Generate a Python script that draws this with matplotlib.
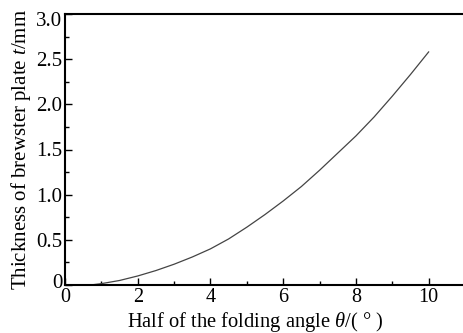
import matplotlib
matplotlib.use("Agg")
import matplotlib.pyplot as plt
import matplotlib.transforms as mtransforms
from matplotlib.ticker import MultipleLocator, FuncFormatter

theta = [0.7, 1.0, 1.5, 2.0, 2.5, 3.0, 3.5, 4.0, 4.5, 5.0, 5.5, 6.0, 6.5, 7.0, 7.5, 8.0, 8.5, 9.0, 9.5, 10.0]
thickness = [0.0, 0.015, 0.05, 0.10, 0.16, 0.23, 0.31, 0.40, 0.51, 0.64, 0.78, 0.93, 1.09, 1.27, 1.46, 1.65, 1.86, 2.09, 2.33, 2.58]

plt.rcParams['font.family'] = ['Liberation Serif', 'DejaVu Serif']
plt.rcParams['mathtext.fontset'] = 'custom'
plt.rcParams['mathtext.rm'] = 'Liberation Serif'
plt.rcParams['mathtext.it'] = 'Liberation Serif:italic'

fig = plt.figure(figsize=(4.63, 3.33), dpi=100)
ax = fig.add_axes([65/463, 48/333, 400/463, 271/333])
ax.plot(theta, thickness, color='#444444', lw=0.9)
ax.set_xlim(0, 11)
ax.set_ylim(0, 3.0)
ax.xaxis.set_major_locator(MultipleLocator(2))
ax.xaxis.set_minor_locator(MultipleLocator(1))
ax.yaxis.set_major_locator(MultipleLocator(0.5))
ax.yaxis.set_minor_locator(MultipleLocator(0.25))
ax.yaxis.set_major_formatter(FuncFormatter(lambda v, p: '0' if abs(v) < 1e-9 else f'{v:.1f}'))
ax.tick_params(which='both', direction='in', labelsize=15, width=1, top=False, right=False)
ax.tick_params(axis='x', labelsize=14.5, pad=2)
ax.tick_params(which='major', length=5)
ax.tick_params(which='minor', length=3)
ax.tick_params(axis='y', pad=2)
for s in ['left', 'bottom', 'top']:
    ax.spines[s].set_linewidth(1.5)
ax.spines['right'].set_visible(False)
ax.set_xlabel(r'Half of the folding angle $\it{\theta}$/( ° )', fontsize=14.8, labelpad=0)
ax.xaxis.set_label_coords(0.475, -0.092)
ax.set_ylabel(r'Thickness of brewster plate $\it{t}$/mm', fontsize=15, labelpad=2)
fig.canvas.draw()
for lab in ax.get_yticklabels():
    if lab.get_text() == '0':
        lab.set_transform(lab.get_transform() + mtransforms.ScaledTranslation(0, 4/100, fig.dpi_scale_trans))
    elif lab.get_text() == '3.0':
        lab.set_transform(lab.get_transform() + mtransforms.ScaledTranslation(0, -5/100, fig.dpi_scale_trans))
fig.savefig('out.png', dpi=100)
